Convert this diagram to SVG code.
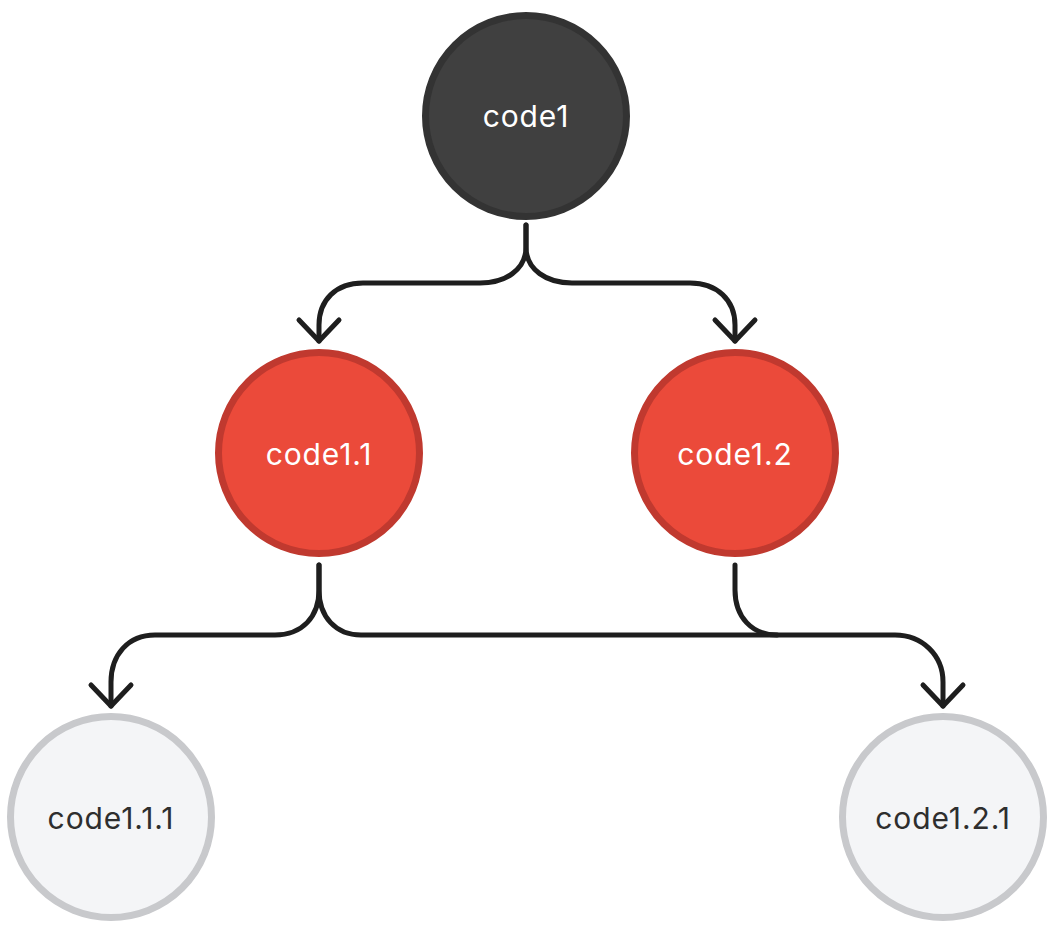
<svg xmlns="http://www.w3.org/2000/svg" width="1052" height="927" viewBox="0 0 1052 927">
  <defs>
    <style>
      .node-dark circle { fill: #404040; stroke: #333333; stroke-width: 7; }
      .node-red circle { fill: #EB4A3A; stroke: #C0392F; stroke-width: 7; }
      .node-light circle { fill: #F4F5F7; stroke: #C8C9CC; stroke-width: 7; }
      text { font-family: Inter, "Liberation Sans", sans-serif; font-size: 30px; letter-spacing: 0.9px; text-anchor: middle; }
      .node-dark text, .node-red text { fill: #FFFFFF; }
      .node-light text { fill: #2E2E2E; }
      .edge { fill: none; stroke: #1E1E1E; stroke-width: 5; stroke-linecap: round; stroke-linejoin: round; }
    </style>
    <marker id="chev" viewBox="-28 -26 32 52" refX="0" refY="0" markerWidth="32" markerHeight="52" markerUnits="userSpaceOnUse" orient="auto">
      <path d="M-21,-20 L0,0 L-21,20" fill="none" stroke="#1E1E1E" stroke-width="5" stroke-linecap="round" stroke-linejoin="round"/>
    </marker>
  </defs>
  <rect width="1052" height="927" fill="#FFFFFF"/>

  <g id="connectors">
    <path class="edge" d="M526,225 L526,247 C526,270 505,283 480,283 L363,283 C336,283 319,300 319,325 L319,341" marker-end="url(#chev)"/>
    <path class="edge" d="M526,225 L526,247 C526,270 547,283 572,283 L690,283 C717,283 735,300 735,325 L735,341" marker-end="url(#chev)"/>
    <path class="edge" d="M319,565 L319,590 C319,617 302,635 275,635 L155,635 C128,635 111,655 111,682 L111,706" marker-end="url(#chev)"/>
    <path class="edge" d="M319,565 L319,590 C319,617 336,635 361,635 L895,635 C922,635 943,655 943,682 L943,706" marker-end="url(#chev)"/>
    <path class="edge" d="M735,565 L735,590 C735,617 752,635 777,635"/>
  </g>

  <g id="code1" class="node-dark">
    <circle cx="526" cy="116" r="100.5"/>
    <text x="526" y="127">code1</text>
  </g>
  <g id="code1.1" class="node-red">
    <circle cx="319" cy="453" r="100.5"/>
    <text x="319" y="465">code1.1</text>
  </g>
  <g id="code1.2" class="node-red">
    <circle cx="735" cy="453" r="100.5"/>
    <text x="735" y="465">code1.2</text>
  </g>
  <g id="code1.1.1" class="node-light">
    <circle cx="111" cy="817" r="100.5"/>
    <text x="111" y="829">code1.1.1</text>
  </g>
  <g id="code1.2.1" class="node-light">
    <circle cx="943" cy="817" r="100.5"/>
    <text x="943" y="829">code1.2.1</text>
  </g>
</svg>
